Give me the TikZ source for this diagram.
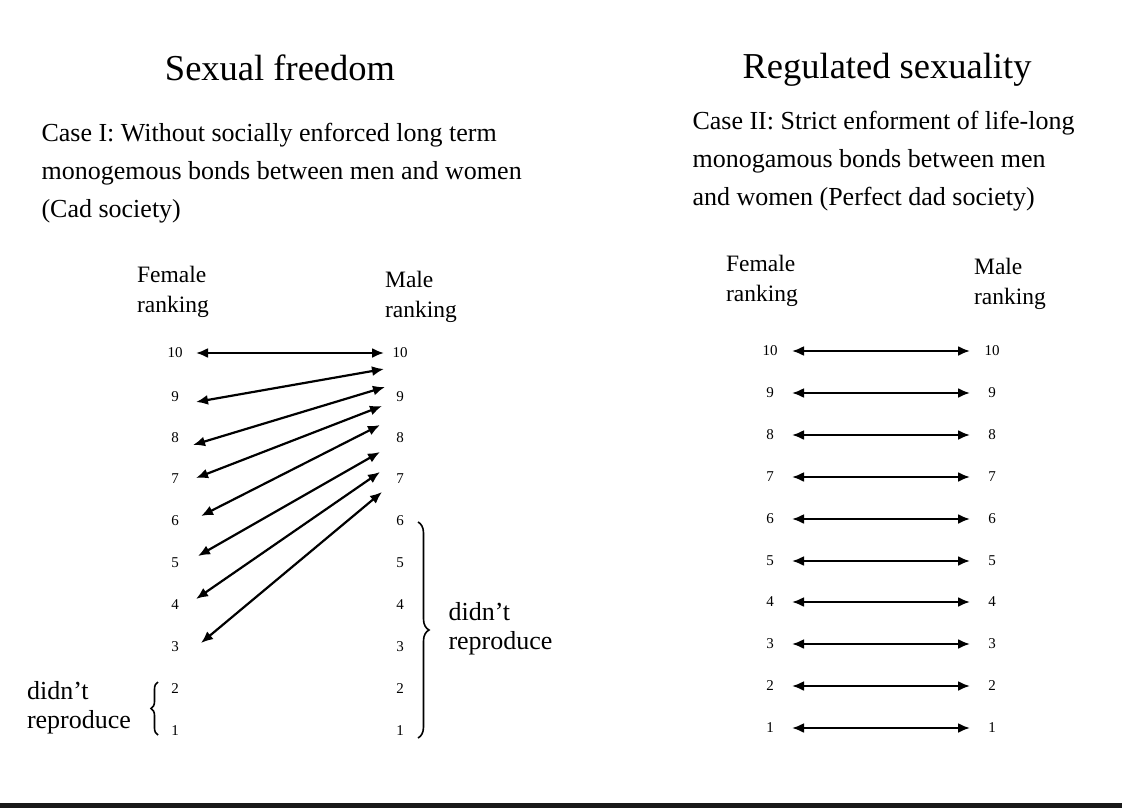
\documentclass[tikz,border=0pt]{standalone}
\usepackage{fontspec}
\setmainfont{Liberation Serif}
\usetikzlibrary{decorations.pathreplacing,arrows.meta}
\begin{document}
\begin{tikzpicture}[x=1pt,y=-1pt,
 num/.style={font=\fontsize{15}{16}\selectfont},
 hd/.style={font=\fontsize{23.5}{30}\selectfont,align=left},
 tx/.style={font=\fontsize{26}{38}\selectfont,align=left,anchor=north west},
 tt/.style={font=\fontsize{36.5}{40}\selectfont},
 dr/.style={font=\fontsize{26}{29}\selectfont,align=left},
 ar/.style={{Latex[length=12pt,width=10pt]}-{Latex[length=12pt,width=10pt]},line width=2.2pt}]
\useasboundingbox (0,0) rectangle (1122,808);
\fill[black!90] (0,803) rectangle (1122,808);
\node[tt] (t1) at (280,68) {Sexual freedom};
\node[tt] (t2) at (887,70) {Regulated sexuality};
\node[tx] (c1) at (38,120) {Case I: Without socially enforced long term\\monogemous bonds between men and women\\(Cad society)};
\node[tx] (c2) at (689,108) {Case II: Strict enforment of life-long\\monogamous bonds between men\\and women (Perfect dad society)};
\node[hd] (fl) at (173,292) {Female\\ranking};
\node[hd] (ml) at (421,297) {Male\\ranking};
\node[hd] (fr) at (762,281) {Female\\ranking};
\node[hd] (mr) at (1010,284) {Male\\ranking};
\foreach \n/\y in {10/353,9/397,8/438,7/479,6/521,5/563,4/605,3/647,2/689,1/731}{
 \node[num] (lf\n) at (175,\y) {\n};
 \node[num] (lm\n) at (400,\y) {\n};}
\coordinate (la10) at (196,353); \coordinate (ra10) at (384,353);
\coordinate (la9) at (196,402); \coordinate (ra9) at (384,369);
\coordinate (la8) at (193,445); \coordinate (ra8) at (385,387);
\coordinate (la7) at (196,478); \coordinate (ra7) at (382,406);
\coordinate (la6) at (201,516); \coordinate (ra6) at (380,425);
\coordinate (la5) at (198,556); \coordinate (ra5) at (380,452);
\coordinate (la4) at (196,599); \coordinate (ra4) at (380,472);
\coordinate (la3) at (201,643); \coordinate (ra3) at (382,492);
\foreach \n in {10,9,8,7,6,5,4,3}{\draw[ar] (la\n) -- (ra\n);}
\draw[decorate,decoration={brace,amplitude=11pt},line width=1.6pt] (418,522) -- (418,738);
\node[dr,anchor=west] (dr1) at (445,629) {didn't\\reproduce};
\draw[decorate,decoration={brace,amplitude=7pt},line width=1.6pt] (158,735) -- (158,682);
\node[dr] (dr2) at (79,708) {didn't\\reproduce};
\foreach \n/\y in {10/351,9/393,8/435,7/477,6/519,5/561,4/602,3/644,2/686,1/728}{
 \node[num] (rf\n) at (770,\y) {\n};
 \node[num] (rm\n) at (992,\y) {\n};
 \draw[ar] (792,\y) -- (970,\y);}
\end{tikzpicture}
\end{document}
